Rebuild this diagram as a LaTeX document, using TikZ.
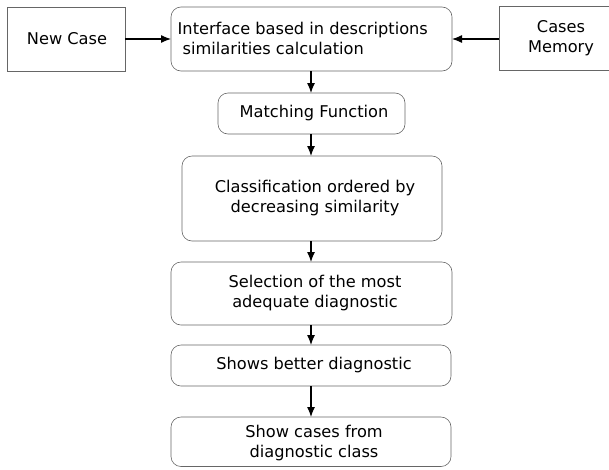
\documentclass[tikz,border=0pt]{standalone}
\usepackage{fontspec}
\setmainfont{DejaVu Sans}
\usetikzlibrary{arrows.meta}
\begin{document}
\begin{tikzpicture}[x=1pt,y=-1pt,
  sq/.style={draw=black!60, line width=0.6pt},
  rbox/.style={draw=black!60, line width=0.6pt, rounded corners=10pt},
  lbl/.style={font=\fontsize{16.2}{20}\selectfont, align=center, inner sep=0pt},
  arr/.style={line width=1.2pt, -{Latex[length=10pt,width=8pt]}}]
\useasboundingbox (0,0) rectangle (609,469);
% boxes
\draw[sq] (7,7) rectangle (125,71);
\node[lbl] (nc) at (67,39) {New Case};
\coordinate (ncE) at (125,39);
\draw[rbox] (171,7) rectangle (452,71);
\node[lbl, align=left, anchor=west] (ifc) at (177.5,38.5) {Interface based in descriptions\\[0pt]\hspace{5pt}similarities calculation};
\coordinate (ifW) at (171,39);
\coordinate (ifE) at (452,39);
\coordinate (ifS) at (311,71);
\draw[sq] (612,6) -- (499,6) -- (499,70) -- (612,70);
\node[lbl] (cm) at (561,38.5) {Cases\\Memory};
\coordinate (cmW) at (499,39);
\draw[rbox] (218,93) rectangle (405,134);
\node[lbl] (mf) at (314,113.5) {Matching Function};
\coordinate (mfN) at (311,93);
\coordinate (mfS) at (311,134);
\draw[rbox] (182,156) rectangle (442,241);
\node[lbl] (cl) at (315,198) {Classification ordered by\\decreasing similarity};
\coordinate (clN) at (311,156);
\coordinate (clS) at (311,241);
\draw[rbox] (171,262) rectangle (452,325);
\node[lbl] (se) at (315,293) {Selection of the most\\adequate diagnostic};
\coordinate (seN) at (311,262);
\coordinate (seS) at (311,325);
\draw[rbox] (171,345) rectangle (451,386);
\node[lbl] (sb) at (314,365.5) {Shows better diagnostic};
\coordinate (sbN) at (311,345);
\coordinate (sbS) at (311,386);
\draw[rbox] (171,417) rectangle (451,466.5);
\node[lbl] (sc) at (314,443.5) {Show cases from\\diagnostic class};
\coordinate (scN) at (311,417);
% arrows
\draw[arr] (ncE) -- (ifW);
\draw[arr] (cmW) -- (ifE);
\draw[arr] (ifS) -- (mfN);
\draw[arr] (mfS) -- (clN);
\draw[arr] (clS) -- (seN);
\draw[arr] (seS) -- (sbN);
\draw[arr] (sbS) -- (scN);
\end{tikzpicture}
\end{document}
